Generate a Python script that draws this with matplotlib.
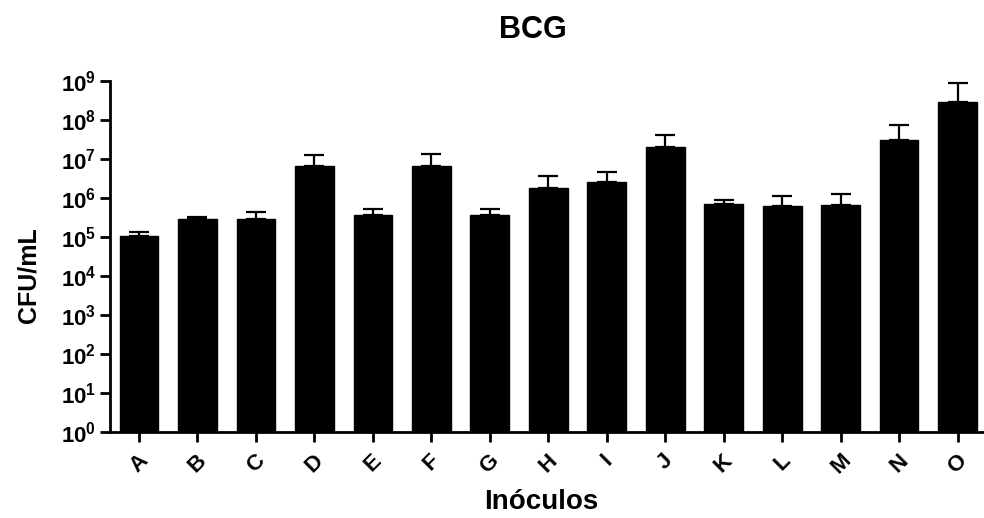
import matplotlib
matplotlib.use('Agg')
import matplotlib.pyplot as plt
import numpy as np

plt.rcParams['font.family'] = ['Liberation Sans', 'DejaVu Sans']
plt.rcParams['font.weight'] = 'bold'
plt.rcParams['mathtext.fontset'] = 'custom'
plt.rcParams['mathtext.rm'] = 'Liberation Sans:bold'
plt.rcParams['mathtext.bf'] = 'Liberation Sans:bold'

inoculos = ['A', 'B', 'C', 'D', 'E', 'F', 'G', 'H', 'I', 'J', 'K', 'L', 'M', 'N', 'O']
cfu_mean = [1.07e5, 2.9e5, 2.9e5, 6.6e6, 3.65e5, 6.6e6, 3.65e5, 1.8e6,
            2.57e6, 2.0e7, 7.0e5, 6.2e5, 6.6e5, 3.1e7, 2.8e8]
cfu_upper = [1.3e5, 3.3e5, 4.3e5, 1.26e7, 5.3e5, 1.37e7, 5.3e5, 3.6e6,
             4.6e6, 4.1e7, 8.7e5, 1.1e6, 1.24e6, 7.3e7, 8.9e8]
exponents = [0, 1, 2, 3, 4, 5, 6, 7, 8, 9]

x = np.arange(len(inoculos))
mean = np.array(cfu_mean)
err = np.array(cfu_upper) - mean

fig = plt.figure(figsize=(9.84, 5.18), dpi=100)
ax = fig.add_axes([0.112, 0.166, 0.888, 0.678])

ax.bar(x, mean, width=0.66, color='black', edgecolor='black')
ax.errorbar(x, mean, yerr=[np.zeros_like(err), err], fmt='none',
            ecolor='black', elinewidth=1.6, capsize=7, capthick=1.6)

ax.set_yscale('log')
ax.set_ylim(1, 1e9)
ax.set_xlim(-0.49, 14.45)
ax.set_yticks([10.0 ** e for e in exponents])
ax.set_yticklabels([r'$10^{%d}$' % e for e in exponents], fontsize=16)
ax.minorticks_off()
ax.set_xticks(x)
ax.set_xticklabels(inoculos, rotation=45, ha='center', fontsize=16, fontweight='bold')

for s in ['top', 'right']:
    ax.spines[s].set_visible(False)
for s in ['left', 'bottom']:
    ax.spines[s].set_linewidth(2)
ax.tick_params(axis='both', width=2, length=7, direction='out')
ax.tick_params(axis='x', pad=6)
ax.tick_params(axis='y', pad=3)

fig.text(533 / 984, 1 - 38 / 518, 'BCG', fontsize=22, fontweight='bold',
         ha='center', va='baseline')

ax.set_ylabel('CFU/mL', fontsize=18, fontweight='bold', va='center')
ax.yaxis.set_label_coords(-0.094, 0.447)
ax.set_xlabel('Inóculos', fontsize=20, fontweight='bold')
ax.xaxis.set_label_coords(0.493, -0.163)

fig.savefig('out.png', dpi=100)
